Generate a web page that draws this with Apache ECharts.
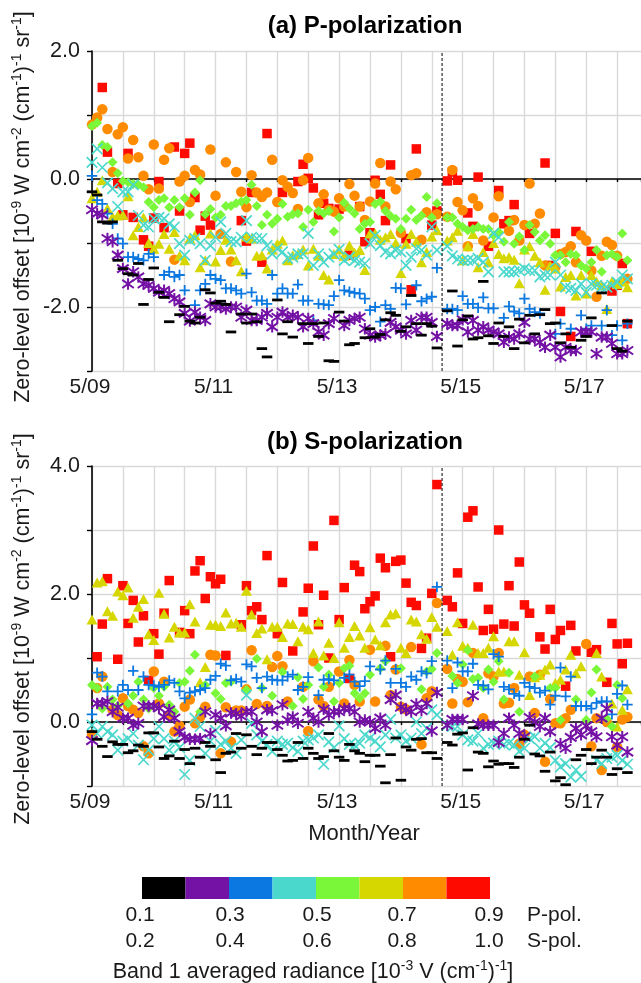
<!DOCTYPE html>
<html><head><meta charset="utf-8">
<style>html,body{margin:0;padding:0;background:#fff;overflow:hidden}#c{width:641px;height:983px}</style>
<script src="https://cdn.jsdelivr.net/npm/echarts@6/dist/echarts.min.js"></script>
</head><body><div id="c"></div>
<script>
var _=null;
var tickLabels=['5/09','5/11','5/13','5/15','5/17'];
var colorNames=['0.1-0.2','0.2-0.3','0.3-0.4','0.4-0.5','0.5-0.6','0.6-0.7','0.7-0.8','0.8-1.0'];
var palette=['#000000','#7412a5','#0a78e0','#4bd8cc','#7af738','#d6d600','#ff8c00','#ff0a00'];
var pLabels=['0.1','0.3','0.5','0.7','0.9'];
var sLabels=['0.2','0.4','0.6','0.8','1.0'];
var campaignMonth=68;

var redP=[_,_,1.43,.42,_,-.07,-.56,.40,-.6,_,
-.95,-1.05,-.61,-.04,-.76,_,.5,-.5,.4,.56,
-.29,-.8,-.58,-.72,_,_,_,_,_,-.65,
-.97,-.21,_,-1.3,.71,_,_,-.21,_,_,
-.04,.23,.01,-.14,-.56,-.38,-.46,_,-.47,_,
-1.19,_,-.43,-.98,-.84,-.02,-.24,-.65,.22,_,
_,-.93,-1.73,.47,_,_,-.72,-.5,_,-.03,
.11,-.02,_,-.53,-.74,.03,_,-1.05,_,-.18,
-.7,-.65,-.4,_,_,-.85,_,_,.25,-1.35,
-.85,-2.07,_,-2.46,-.82,_,_,-1.13,_,_,
_,-1.75,-1.66,-1.32,-2.26];
var orangeP=[.85,.96,1.09,.78,.11,.7,.81,.32,.61,.34,
.05,-.16,.54,-.15,.3,.48,-1.26,-.04,.05,-.36,
.14,.07,_,.46,-.26,-.86,.26,-1.29,.11,-.2,
-.44,.06,-.21,-.28,-.21,.3,-.36,-.02,-.12,-.22,
-.47,-.02,.33,_,-.38,-.24,-.48,-.51,-.3,-.43,
-.08,-.26,-.43,-.64,-.35,-.07,.25,-.43,-.04,-.16,
-.84,_,.06,.09,-.95,-.52,_,-.55,_,-.59,
.14,-.36,-.49,-1.05,-.3,-.42,-.96,_,-.6,-.27,
_,-.81,-.64,-.96,-.72,-.07,-.7,-.54,-1.35,_,
-1.38,-1.17,-1.14,-1.05,-1.3,-.88,-.96,-1.43,-1.84,-1.2,
-.98,-1.03,-1.2,_,-1.56];
var yellowP=[-.3,-.2,-.02,-.46,-.59,-.57,-.56,-.27,-.88,-.75,
-.6,-1.0,-1.09,-1.01,-.86,-1.09,-.83,-1.2,-1.27,-.93,
-.88,-1.38,-1.27,-.85,-1.29,-1.11,-.95,-1.1,-1.27,-1.44,
-.9,-.93,-1.2,-1.19,-1.4,-1.1,-1.01,-.96,-1.27,-1.19,
-1.17,-1.1,-1.35,-1.09,-1.2,-1.5,-1.57,-1.17,-1.1,-1.2,
-1.04,-1.15,-1.11,-1.42,-.85,-.85,-.95,-.91,-.86,-1.0,
-1.47,-1.01,-.86,-.98,-1.3,-1.14,-.9,-.8,_,-.96,
-.91,-.81,-1.27,-1.05,-.86,-1.38,-1.14,-1.3,-1.0,-1.17,
-1.24,-1.22,-1.26,-1.63,-1.1,-1.05,-1.2,-1.3,-1.73,-1.35,
-1.4,-1.68,-1.53,-1.5,-1.82,-1.5,-1.79,-1.5,-1.6,-1.66,
-2.03,-1.6,-1.64,-1.6,-1.69];
var greenP=[.83,.88,.53,.5,.26,.09,-.03,-.05,-.08,-.09,
-.13,-.36,-.44,-.33,-.3,-.44,-.33,-.44,-.3,-.56,
-.21,-.02,-.55,-.47,-.6,-.56,-.42,-.42,-.38,-.35,
-.33,-.09,-.42,-.72,-.56,-.7,-.62,-.39,-.59,-.55,
-.54,-.75,-.48,-.67,-.5,-.54,-.5,-.82,-.6,-.37,
-.46,-.54,-.78,-.7,-.67,-.39,-.35,-.5,-.58,-.62,
-.78,-.62,-.48,-.64,-.57,-.28,-.6,-.38,_,-.6,
-.6,-.7,-.75,-.8,-.78,-.75,-.78,-.78,-.88,-.83,
-.98,-.67,-1.01,-.9,-1.11,-.72,-.83,-.96,-.88,-1.01,
-1.19,-1.19,-1.3,-1.17,-1.19,-1.35,-1.4,-1.3,-1.11,-1.45,
-1.19,-1.17,-1.22,-.85,-1.27];
var cyanP=[.26,.47,.18,-.06,-.15,-.43,-.2,-.2,-.09,-.57,
-.72,-.75,-.62,-.6,-.62,-.7,-.75,-1.01,-1.19,-.96,
-.93,-1.01,-1.27,-1.04,-.91,-.67,-.85,-.98,-.98,-.91,
-.65,-.91,-.93,-.93,-1.04,-1.17,-1.09,-1.14,-1.24,-1.22,
-1.17,-1.17,-.85,-1.35,-1.17,-1.3,-1.22,-1.17,-1.1,-1.27,
-1.22,-1.27,-1.3,-1.32,-1.01,-.88,-1.04,-1.14,-1.17,-1.11,
-1.14,-1.35,-1.22,-1.09,-1.11,-1.19,-.75,-1.11,_,-1.05,
-1.2,-1.25,-1.27,-1.27,-1.27,-1.24,-1.3,-1.45,-.85,-.91,
-1.45,-1.45,-1.45,-1.43,-1.4,-1.43,-1.43,-1.53,-1.5,-1.5,
-1.3,-1.5,-1.69,-1.71,-1.74,-1.64,-1.77,-1.64,-1.66,-1.69,
-1.69,-1.66,-1.61,-1.5,-1.56];
var blueP=[.05,-.33,-.39,-.54,-.7,-.93,-1.01,-1.22,-1.22,-1.25,
-1.27,-1.17,-1.22,_,-1.5,-1.45,-1.53,-1.5,-1.74,_,
-1.97,-1.74,-1.64,-1.5,-1.56,-1.58,-1.71,-1.71,-1.74,-1.79,
-1.48,-1.77,-1.9,-1.9,-1.95,-1.5,-1.79,-1.71,-1.79,-1.79,
-1.65,-1.9,-1.9,-2.21,-1.95,-1.96,-1.97,-1.83,-1.58,-1.74,
-1.76,-1.78,-1.79,-1.87,-2.05,-2.0,-2.23,-1.97,-2.03,-1.7,
-1.71,-1.96,_,-1.66,-1.91,-1.87,-1.84,-1.39,_,-2.03,
-2.03,-2.05,-1.83,-1.95,-1.95,-2.01,-1.85,-2.02,-2.02,_,
-2.17,-1.99,-2.07,-2.1,-1.87,-2.03,-2.08,-2.1,_,_,
-2.42,-2.26,_,-2.34,_,-2.13,-2.34,-2.29,_,-2.29,
-2.05,-2.44,-2.29,-2.52,-2.26];
var purpleP=[-.48,-.54,-.56,-.93,-.98,-1.19,-1.4,-1.64,-1.45,-1.53,
-1.64,-1.66,-1.71,-1.77,-1.74,-1.79,-1.87,-1.92,-2.1,-2.22,
-2.08,-2.16,-2.21,-1.95,-2.0,-2.0,-2.03,-2.0,-2.0,-2.16,
-2.05,-2.21,-2.21,-2.16,-2.1,-2.31,-2.16,-2.08,-2.16,-2.13,
-2.16,-2.31,-2.18,-2.26,-2.39,-2.44,-2.26,-2.18,_,-2.29,
-2.21,-2.18,-2.16,-2.34,-2.44,-2.47,-2.44,-2.42,-2.24,-2.31,
-2.36,-2.42,-2.21,-2.36,-2.16,-2.16,-2.24,-2.46,_,-2.26,
-2.29,-2.29,-2.2,-2.39,-2.21,-2.36,-2.31,-2.36,-2.39,-2.42,
-2.55,-2.47,-2.5,-2.42,-2.24,-2.5,-2.5,-2.55,-2.63,-2.44,
-2.63,-2.78,-2.63,-2.68,-2.68,-2.39,-2.39,-2.39,-2.73,-2.47,
-2.47,-2.57,-2.73,-2.73,-2.68];
var blackP=[-.2,-.25,-.67,-.69,-.67,-1.27,-1.4,-1.48,-1.5,-1.32,
-1.96,-1.57,-1.39,-1.77,-1.85,-2.23,_,-2.12,-1.99,-2.22,
-2.25,-2.16,-1.73,-1.78,-1.94,-1.91,-1.96,-2.39,_,-2.11,
-2.25,-2.11,-2.23,-2.65,-2.78,_,-1.89,-2.42,-2.23,-2.47,
_,-2.26,-2.57,-2.26,-2.46,-2.25,-2.84,-2.85,-2.08,-2.22,
-2.59,-2.57,_,-2.48,-2.34,-2.47,-2.43,-2.2,-2.09,-2.13,
-2.38,-2.31,-1.82,-2.26,-2.44,-2.26,-2.3,-2.64,_,-2.06,
-1.75,-2.61,-2.2,-2.14,-2.5,-2.48,-1.6,-2.45,-2.57,-2.25,
-2.46,-2.31,-2.65,-2.19,-2.56,-2.13,-2.42,-2.12,-2.04,-2.26,
-2.25,-2.56,-2.42,-2.63,_,-2.52,-2.46,-2.17,_,-1.78,
_,-2.29,-2.65,-2.69,-2.22];

var redS=[_,1.02,1.53,2.24,_,.98,2.13,1.54,1.9,1.25,
1.66,.65,1.38,1.06,1.7,2.21,_,1.4,1.74,1.38,
2.36,2.52,1.93,2.27,2.16,2.23,1.04,_,_,1.52,
2.13,1.74,1.8,1.6,2.6,_,1.38,2.18,_,1.11,
_,1.72,2.09,2.75,1.52,1.98,1.0,3.15,1.6,2.1,
.68,2.45,2.35,1.77,1.88,1.97,2.56,2.41,1.02,2.51,
2.53,2.17,1.87,1.82,1.15,1.31,2.01,3.71,_,1.9,
1.8,2.33,1.54,3.2,3.3,2.11,1.43,1.76,1.45,3.0,
1.53,2.13,1.5,2.5,1.83,1.7,_,1.33,1.14,1.76,
1.29,1.43,.56,1.51,1.11,_,_,1.09,1.13,_,
.62,1.54,1.22,.91,1.23];
var orangeS=[-.2,.53,.71,_,.19,.11,.37,.25,.19,.14,
-.38,-.49,.79,.29,.63,.11,-.15,-.06,.24,.35,
-.02,.08,.24,1.05,1.04,-.49,.23,-.31,.18,.18,
.51,1.12,.28,_,.25,.86,1.03,.87,.32,_,
_,.55,-.14,.95,.35,.25,.55,_,.79,.29,
.97,.58,.32,_,1.13,.32,_,1.19,.42,.82,
.24,.2,1.17,_,-.35,.37,.48,1.86,_,.83,
.29,.67,.63,.31,1.08,_,.06,.76,.71,1.08,
.29,.3,.53,-.34,-.2,.71,.14,.74,-.62,.36,
-.02,-.02,.06,.19,_,_,1.22,-.38,.06,-.75,
0,_,-.39,.04,.08];
var yellowS=[1.6,2.18,2.2,1.73,1.66,2.04,1.98,2.1,1.63,1.8,
1.92,1.37,1.28,2.02,1.69,1.32,1.49,1.4,1.4,1.84,
1.57,.62,.86,1.52,1.52,1.5,1.71,1.54,1.55,1.49,
2.05,1.68,1.39,1.46,.98,1.49,1.49,1.33,1.54,1.53,
1.26,1.49,1.45,1.08,1.57,1.04,1.24,1.0,1.56,1.16,
1.33,1.5,1.35,1.16,1.48,1.29,1.2,1.56,1.68,1.7,
1.16,1.08,1.6,1.57,1.37,1.3,1.64,1.49,_,1.42,
1.05,1.56,1.19,1.16,1.52,1.08,1.08,1.16,1.34,.79,
.79,1.26,1.26,.74,1.09,.42,.7,.74,.82,.9,
.61,.66,.82,1.05,.76,.87,_,_,1.08,.71,
_,.29,-.07,.19,.51];
var greenS=[.58,.53,.21,.55,.35,.25,_,.29,.41,.63,
.35,.21,.53,.41,.55,.27,.16,.61,.63,.8,
1.05,.16,.58,_,.45,.36,.61,.63,_,_,
.5,_,.99,.53,_,.41,_,.78,_,.25,
.7,.36,.58,_,.85,.55,.74,.32,.61,.84,
.88,.45,.37,.45,.74,_,.84,.95,_,_,
.84,_,_,_,.51,.79,.83,1.08,_,_,
.72,.61,.9,1.12,.67,.69,.53,.82,.63,.95,
.35,.77,_,.16,_,_,.71,_,_,.53,
.53,.03,_,_,.35,_,.03,.46,.82,_,
.05,-.07,.58,.37,_];
var cyanS=[-.05,-.18,-.07,-.15,-.2,-.44,-.3,-.26,-.18,-.36,
-.59,-.44,-.26,-.07,-.26,-.44,-.3,-.4,-.82,-.6,
.06,-.07,-.49,-.3,-.13,-.35,-.3,-.41,-.49,-.28,
.42,-.02,-.2,-.3,-.35,-.46,-.3,-.35,-.33,-.4,
-.46,-.3,-.28,-.25,-.2,-.66,-.31,-.4,-.06,-.26,
-.35,-.36,-.33,-.2,-.25,-.3,-.39,-.2,.04,-.25,
-.2,-.3,-.25,0,-.18,-.1,.19,.11,_,-.05,
-.07,-.07,-.2,-.28,-.3,-.18,-.41,-.35,-.33,-.3,
-.35,-.33,-.36,-.46,-.41,-.26,-.23,-.41,-.33,-.4,
-.6,-.7,-.65,-.86,-.75,-.85,_,_,-.6,-.65,
-.57,-.55,-.52,-.6,-.66];
var blueS=[.12,.77,.71,.48,_,.48,.58,.5,.8,.5,
.71,.58,.57,.55,.58,.65,.61,.48,.37,.46,
.48,.5,.53,.66,.72,.91,.88,.65,.67,.63,
.9,.87,.69,.53,.71,.66,.65,.65,.71,.74,
.5,.55,.7,_,.42,.66,.67,.65,_,.69,
.74,.63,.56,.64,.87,_,.82,.96,.61,.83,
.61,.55,.71,.66,.79,.76,.95,2.11,_,.96,
.53,.93,.79,.79,.91,.58,.57,.51,1.06,1.02,
.55,.51,.44,.41,.61,.55,.53,.46,.49,.27,
.41,.85,.4,.71,.25,.25,.25,.21,.3,.32,
.32,.12,.44,.57,.27];
var purpleS=[-.29,.29,.29,.32,.16,.23,.06,.06,-.05,-.02,
.25,.25,.25,.22,.08,.19,.06,-.15,-.24,-.27,
-.27,-.26,.16,-.18,.11,.06,-.06,.14,.13,.09,
.16,.16,0,-.15,.19,.18,-.05,.27,.03,.08,
-.02,_,.16,.06,0,.2,.11,.16,.16,.21,
.21,.16,0,.03,0,-.1,.06,-.05,.35,.42,
.23,.19,.16,.28,.18,.29,-.14,.46,_,-.05,
.04,.04,.04,_,.41,-.03,-.05,-.05,-.05,-.32,
-.18,.06,-.05,-.18,-.23,.07,0,-.07,.06,-.15,
_,-.34,-.41,-.24,-.1,-.2,-.06,-.15,-.23,.06,
.21,-.23,-.36,-.23,-.47];
var blackS=[-.15,-.27,-.38,-.54,-.31,-.35,-.35,-.48,-.45,-.36,
-.38,-.17,-.17,-.39,-.57,-.53,-.3,-.57,-.43,-.65,
-.41,-.55,-.32,-.38,-.59,-.79,-.49,-.47,-.18,-.41,
-.2,-.38,-.51,-.41,-.32,-.32,-.43,-.52,-.61,-.6,
-.32,-.57,-.41,-.49,-.57,-.54,-.18,-.45,-.55,-.6,
-.35,-.45,-.49,-.62,-.52,-.52,-.69,-.95,-.51,-.25,
-.91,-.39,-.44,-.27,-.26,-.48,-.48,-.57,_,-.32,
-.36,-.19,-.17,-.75,-.09,-.47,-.49,-.7,-.61,-.66,
-.65,-.65,-.71,-.55,-.27,-.05,-.5,-.53,-.77,-.47,
-.92,-.87,-.98,_,-.59,-.52,-.43,-.65,-.55,-.44,
-.55,-.82,-.73,_,-.79];

var FONT='Liberation Sans';
function pairs(a){var r=[];a.forEach(function(v,i){if(v!==null)r.push([i,v]);});return r;}
var marks=[
 {c:7,symbol:'rect',size:9.5,fill:true},
 {c:6,symbol:'circle',size:10.5,fill:true},
 {c:5,symbol:'triangle',size:[11,10],fill:true},
 {c:4,symbol:'diamond',size:[10,10],fill:true},
 {c:3,symbol:'path://M0 0L10 10M10 0L0 10',size:10.5,w:1.7},
 {c:2,symbol:'path://M5 0V10M0 5H10',size:10.5,w:1.8},
 {c:1,symbol:'path://M0 1.5L10 8.5M0 8.5L10 1.5M5 0V10',size:11.5,w:2},
 {c:0,symbol:'rect',size:[10.5,2.8],fill:true}
];
var sets=[[redP,orangeP,yellowP,greenP,cyanP,blueP,purpleP,blackP],[redS,orangeS,yellowS,greenS,cyanS,blueS,purpleS,blackS]];
var series=[];
sets.forEach(function(list,p){
 list.forEach(function(vals,k){
  var m=marks[k],col=palette[m.c];
  series.push({type:'scatter',silent:true,clip:false,animation:false,xAxisIndex:p*2,yAxisIndex:p,
   data:pairs(vals),symbol:m.symbol,symbolSize:m.size,
   itemStyle:m.fill?{color:col,opacity:1}:{color:'none',borderColor:col,borderWidth:m.w,opacity:1}});
 });
 var yr=p===0?[-3,2]:[-1,4];
 series.push({type:'line',silent:true,animation:false,xAxisIndex:p*2,yAxisIndex:p,symbol:'none',z:5,
  data:[[campaignMonth,yr[0]],[campaignMonth,yr[1]]],lineStyle:{color:'#000',width:1,type:[3,2]}});
});
series.push({type:'bar',silent:true,animation:false,xAxisIndex:4,yAxisIndex:2,barWidth:'100%',
 data:palette.map(function(c){return {value:1,itemStyle:{color:c}};})});

var grid={lineStyle:{color:'#d9d9d9',width:1.4}};
var xMax=106.64;
function xA(g,withLine){return {type:'value',gridIndex:g,min:0,max:xMax,interval:6,position:'bottom',
 splitLine:{show:withLine,showMaxLine:false,lineStyle:grid.lineStyle},
 axisLine:{show:withLine,onZero:withLine,lineStyle:{color:'#000',width:1.6}},
 axisTick:{show:withLine,length:3,lineStyle:{color:'#000',width:1.4}},
 axisLabel:{show:!withLine,margin:6,padding:[0,4,0,0],fontFamily:FONT,fontSize:21,color:'#1a1a1a',showMaxLabel:false,
  formatter:function(v){return v%24===0&&tickLabels[v/24]?tickLabels[v/24]:'';}}};}
function yA(g,lo,hi){return {type:'value',gridIndex:g,min:lo,max:hi,interval:1,
 splitLine:{show:true,lineStyle:grid.lineStyle},
 axisLine:{show:true,onZero:false,lineStyle:{color:'#000',width:1.6}},
 axisTick:{show:true,length:5,lineStyle:{color:'#000',width:1.4}},
 axisLabel:{margin:12,fontFamily:FONT,fontSize:21.5,color:'#1a1a1a',
  formatter:function(v){return v%2===0?(v===0?'0.0':v.toFixed(1)):'';}}};}

var sup={fontSize:14,verticalAlign:'top',lineHeight:25,fontFamily:FONT,fill:'#1a1a1a'};
var base={fontSize:21.5,lineHeight:25,fontFamily:FONT,fill:'#1a1a1a'};
var ytitle='{b|Zero-level offset [10}{s|-9}{b| W cm}{s|-2}{b| (cm}{s|-1}{b|)}{s|-1}{b| sr}{s|-1}{b|]}';
function txt(x,y,t,size,weight,align,col){return {type:'text',x:x,y:y,silent:true,style:{text:t,fontFamily:FONT,fontSize:size,fontWeight:weight||'normal',
 fill:col||'#1a1a1a',align:align||'center',verticalAlign:'middle'}};}
var graphics=[
 txt(365,26,'(a) P-polarization',24,'bold','center','#000'),
 txt(365,442,'(b) S-polarization',24,'bold','center','#000'),
 txt(364,834,'Month/Year',22),
 {type:'text',x:23,y:207,rotation:Math.PI/2,silent:true,style:{text:ytitle,rich:{b:base,s:sup},align:'center',verticalAlign:'middle'}},
 {type:'text',x:23,y:629,rotation:Math.PI/2,silent:true,style:{text:ytitle,rich:{b:base,s:sup},align:'center',verticalAlign:'middle'}},
 txt(527,915.5,'P-pol.',21,'normal','left'),
 txt(527,941,'S-pol.',21,'normal','left'),
 {type:'text',x:313,y:972,silent:true,style:{text:'{b|Band 1 averaged radiance [10}{s|-3}{b| V (cm}{s|-1}{b|)}{s|-1}{b|]}',rich:{b:base,s:sup},align:'center',verticalAlign:'middle'}}
];
[140,230,317,402,489].forEach(function(x,i){
 graphics.push(txt(x,915.5,pLabels[i],21));
 graphics.push(txt(x,941,sLabels[i],21));
});

var chart=echarts.init(document.getElementById('c'),null,{renderer:'canvas',width:641,height:983});
chart.setOption({
 animation:false,backgroundColor:'#fff',tooltip:{show:false},
 grid:[{left:92,top:51,right:0,height:320},{left:92,top:466,right:0,height:320},{left:142,top:877,width:348,height:22}],
 xAxis:[xA(0,true),xA(0,false),xA(1,true),xA(1,false),
  {type:'category',gridIndex:2,data:colorNames,show:false}],
 yAxis:[yA(0,-3,2),yA(1,-1,4),{type:'value',gridIndex:2,min:0,max:1,show:false}],
 series:series,
 graphic:graphics
});
</script></body></html>
